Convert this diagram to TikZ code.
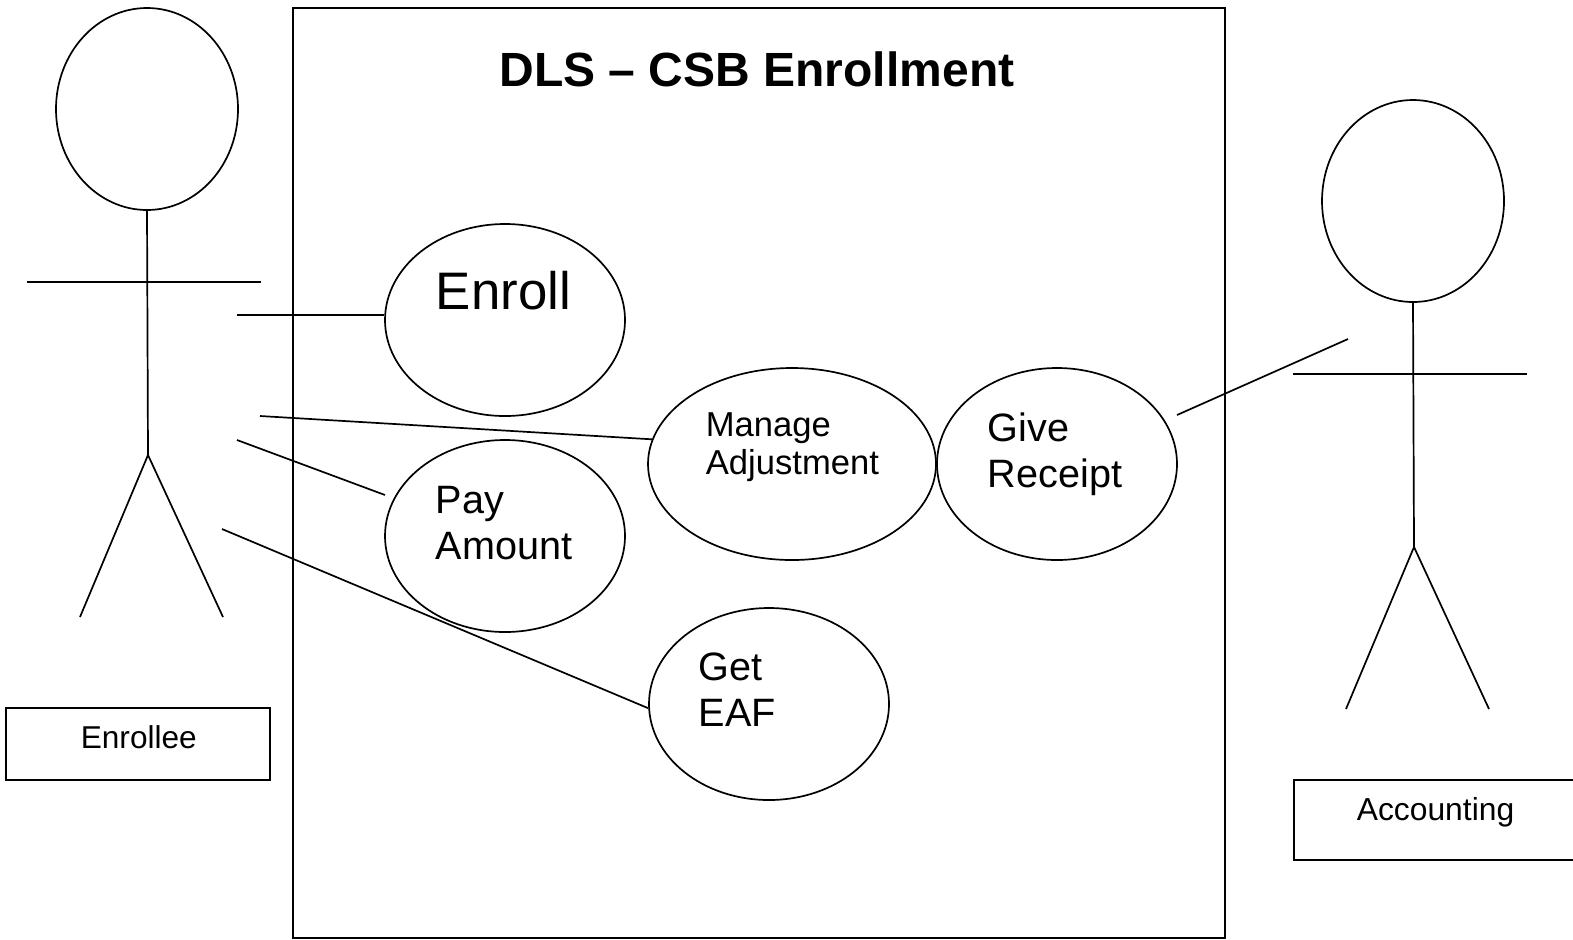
\documentclass[tikz,border=0pt]{standalone}
\usepackage{fontspec}
\setmainfont{Liberation Sans}
\usetikzlibrary{shapes,positioning,calc}
\tikzset{usecase/.style={draw,ellipse,inner sep=0pt,minimum width=120pt,minimum height=96pt}}
\tikzset{actorhead/.style={draw,ellipse,inner sep=0pt,minimum width=91pt,minimum height=101pt}}
\tikzset{caption/.style={inner sep=0pt,align=left,anchor=west}}
\tikzset{namebox/.style={draw,inner sep=0pt}}
\begin{document}
\begin{tikzpicture}[x=0.5pt,y=-0.5pt,line width=0.85pt]
  \useasboundingbox (0,0) rectangle (1573,939);
  \node[draw,inner sep=0pt,minimum width=466pt,minimum height=465pt] (system) at (759,473) {};
  \node[font=\bfseries\fontsize{24}{28}\selectfont,inner sep=0pt] (title) at (757,69) {DLS – CSB Enrollment};

  % enrollee
  \node[actorhead] (headA) at (147,109) {};
  \coordinate (hipA) at (148,455);
  \coordinate (armAl) at (27,282);
  \coordinate (armAr) at (261,282);
  \coordinate (legAl) at (80,617);
  \coordinate (legAr) at (223,617);
  \draw (headA.south) -- (hipA);
  \draw (armAl) -- (armAr);
  \draw (hipA) -- (legAl);
  \draw (hipA) -- (legAr);
  \node[namebox,minimum width=132pt,minimum height=36pt] (enrollee) at (138,744) {};
  \node[caption,font=\fontsize{15.8}{18}\selectfont] (enrolleetxt) at (80,737) {Enrollee};

  % accounting
  \node[actorhead] (headB) at (1413,201) {};
  \coordinate (hipB) at (1414,547);
  \coordinate (armBl) at (1293,374);
  \coordinate (armBr) at (1527,374);
  \coordinate (legBl) at (1346,709);
  \coordinate (legBr) at (1489,709);
  \draw (headB.south) -- (hipB);
  \draw (armBl) -- (armBr);
  \draw (hipB) -- (legBl);
  \draw (hipB) -- (legBr);
  \node[namebox,minimum width=143pt,minimum height=40pt] (accounting) at (1437,820) {};
  \node[caption,font=\fontsize{15.9}{18}\selectfont] (accountingtxt) at (1356,812) {Accounting};

  % use cases
  \node[usecase] (enroll) at (505,320) {};
  \node[caption,font=\fontsize{26.4}{30}\selectfont] (enrolltxt) at (435,291) {Enroll};
  \node[usecase] (pay) at (505,536) {};
  \node[caption,font=\fontsize{19.8}{23}\selectfont] (paytxt) at (435,523) {Pay\\Amount};
  \node[usecase,minimum width=144pt] (manage) at (792,464) {};
  \node[caption,font=\fontsize{17.3}{19.3}\selectfont] (managetxt) at (705,447) {Manage\\Adjustment};
  \node[usecase] (give) at (1057,464) {};
  \node[caption,font=\fontsize{19.8}{23}\selectfont] (givetxt) at (987,454) {Give\\Receipt};
  \node[usecase] (eaf) at (769,704) {};
  \node[caption,font=\fontsize{19.8}{23}\selectfont] (eaftxt) at (698,690) {Get\\EAF};

  % connectors
  \coordinate (toenroll) at (237,315);
  \coordinate (tomanage) at (260,416);
  \coordinate (topay) at (237,440);
  \coordinate (fromA) at (385,495);
  \coordinate (toeaf) at (222,529);
  \coordinate (togive) at (1348,339);
  \coordinate (fromB) at (1177,415);
  \draw (toenroll) -- (enroll.west |- toenroll);
  \draw (tomanage) -- (manage.170);
  \draw (topay) -- (fromA);
  \draw (toeaf) -- (eaf.182);
  \draw (togive) -- (fromB);
\end{tikzpicture}
\end{document}
